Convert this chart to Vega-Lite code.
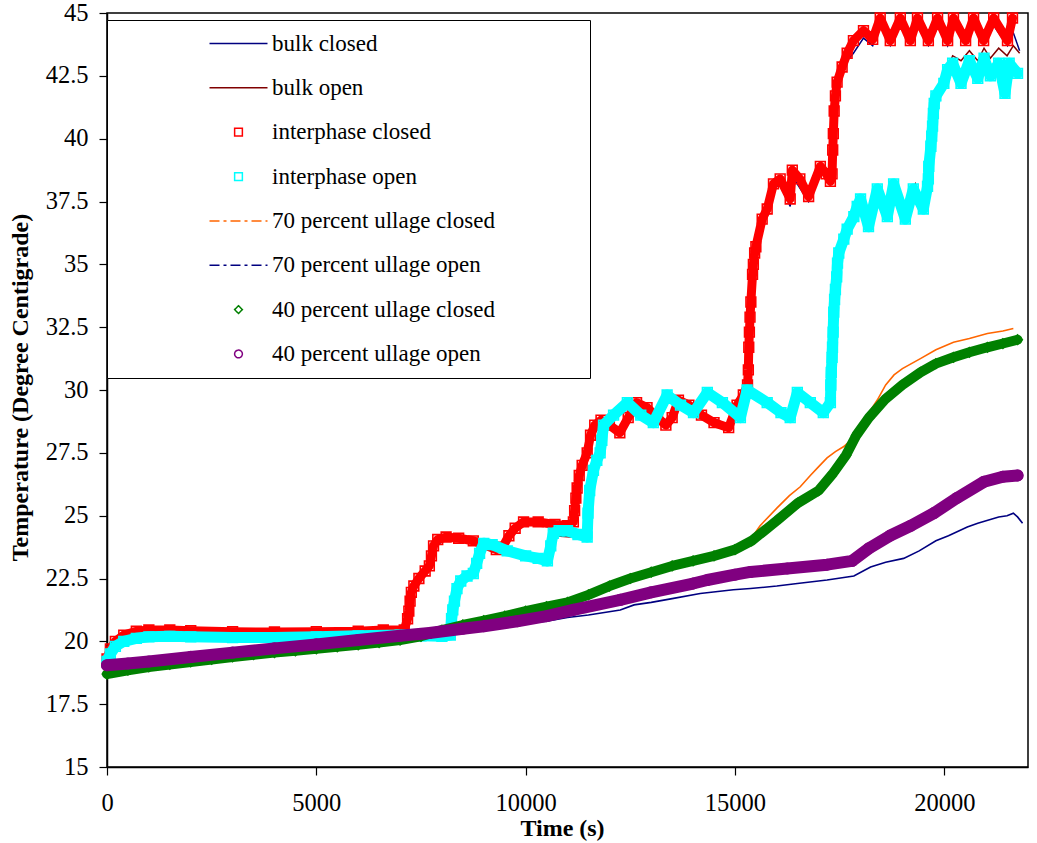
{
  "$schema": "https://vega.github.io/schema/vega-lite/v6.json",
  "width": 921,
  "height": 754,
  "autosize": {"type": "none"},
  "padding": {"left": 107, "top": 13, "right": 9, "bottom": 76},
  "background": "white",
  "config": {
    "font": "Liberation Serif",
    "view": {"stroke": "black", "strokeWidth": 1.5},
    "axis": {
      "grid": false,
      "domainColor": "black",
      "domainWidth": 1.5,
      "tickColor": "black",
      "tickWidth": 1.2,
      "tickSize": 8,
      "labelColor": "black",
      "titleColor": "black",
      "labelFont": "Liberation Serif",
      "titleFont": "Liberation Serif",
      "labelFontSize": 24.5,
      "titleFontSize": 24,
      "titleFontWeight": "bold",
      "labelFlush": false,
      "labelOverlap": false
    }
  },
  "data": {
    "values": [
      {"series": "bulk closed", "t": 0, "v": 19.3},
      {"series": "bulk closed", "t": 200, "v": 20.0},
      {"series": "bulk closed", "t": 700, "v": 20.35},
      {"series": "bulk closed", "t": 7100, "v": 20.4},
      {"series": "bulk closed", "t": 7200, "v": 21.0},
      {"series": "bulk closed", "t": 7300, "v": 22.0},
      {"series": "bulk closed", "t": 7600, "v": 22.7},
      {"series": "bulk closed", "t": 7800, "v": 23.7},
      {"series": "bulk closed", "t": 8100, "v": 24.1},
      {"series": "bulk closed", "t": 8750, "v": 23.95},
      {"series": "bulk closed", "t": 9300, "v": 23.6},
      {"series": "bulk closed", "t": 9750, "v": 24.4},
      {"series": "bulk closed", "t": 10000, "v": 24.7},
      {"series": "bulk closed", "t": 11140, "v": 24.6},
      {"series": "bulk closed", "t": 11200, "v": 25.5},
      {"series": "bulk closed", "t": 11350, "v": 26.9},
      {"series": "bulk closed", "t": 11550, "v": 28.0},
      {"series": "bulk closed", "t": 11800, "v": 28.7},
      {"series": "bulk closed", "t": 12250, "v": 28.3},
      {"series": "bulk closed", "t": 12650, "v": 29.4},
      {"series": "bulk closed", "t": 13350, "v": 28.6},
      {"series": "bulk closed", "t": 13650, "v": 29.5},
      {"series": "bulk closed", "t": 14850, "v": 28.6},
      {"series": "bulk closed", "t": 15200, "v": 29.7},
      {"series": "bulk closed", "t": 15300, "v": 30.2},
      {"series": "bulk closed", "t": 15340, "v": 32.0},
      {"series": "bulk closed", "t": 15420, "v": 34.5},
      {"series": "bulk closed", "t": 15500, "v": 35.6},
      {"series": "bulk closed", "t": 15650, "v": 36.6},
      {"series": "bulk closed", "t": 15920, "v": 38.0},
      {"series": "bulk closed", "t": 16080, "v": 38.2},
      {"series": "bulk closed", "t": 16320, "v": 37.3},
      {"series": "bulk closed", "t": 16370, "v": 38.5},
      {"series": "bulk closed", "t": 16760, "v": 37.5},
      {"series": "bulk closed", "t": 17040, "v": 38.7},
      {"series": "bulk closed", "t": 17280, "v": 38.2},
      {"series": "bulk closed", "t": 17335, "v": 39.5},
      {"series": "bulk closed", "t": 17370, "v": 41.0},
      {"series": "bulk closed", "t": 17440, "v": 42.1},
      {"series": "bulk closed", "t": 17560, "v": 42.7},
      {"series": "bulk closed", "t": 17680, "v": 43.1},
      {"series": "bulk closed", "t": 17830, "v": 43.4},
      {"series": "bulk closed", "t": 18070, "v": 44.0},
      {"series": "bulk closed", "t": 18290, "v": 43.7},
      {"series": "bulk closed", "t": 18470, "v": 44.5},
      {"series": "bulk closed", "t": 18710, "v": 43.7},
      {"series": "bulk closed", "t": 18950, "v": 44.5},
      {"series": "bulk closed", "t": 19190, "v": 43.8},
      {"series": "bulk closed", "t": 19360, "v": 44.5},
      {"series": "bulk closed", "t": 19620, "v": 43.7},
      {"series": "bulk closed", "t": 19840, "v": 44.5},
      {"series": "bulk closed", "t": 20080, "v": 43.7},
      {"series": "bulk closed", "t": 20220, "v": 44.5},
      {"series": "bulk closed", "t": 20510, "v": 43.8},
      {"series": "bulk closed", "t": 20700, "v": 44.5},
      {"series": "bulk closed", "t": 20940, "v": 43.8},
      {"series": "bulk closed", "t": 21180, "v": 44.5},
      {"series": "bulk closed", "t": 21510, "v": 43.7},
      {"series": "bulk closed", "t": 21630, "v": 44.3},
      {"series": "bulk closed", "t": 21800, "v": 43.5},

      {"series": "bulk open", "t": 0, "v": 19.2},
      {"series": "bulk open", "t": 200, "v": 19.8},
      {"series": "bulk open", "t": 700, "v": 20.1},
      {"series": "bulk open", "t": 8200, "v": 20.2},
      {"series": "bulk open", "t": 8260, "v": 21.1},
      {"series": "bulk open", "t": 8360, "v": 22.0},
      {"series": "bulk open", "t": 8600, "v": 22.5},
      {"series": "bulk open", "t": 8830, "v": 23.0},
      {"series": "bulk open", "t": 9000, "v": 23.8},
      {"series": "bulk open", "t": 9560, "v": 23.6},
      {"series": "bulk open", "t": 10520, "v": 23.2},
      {"series": "bulk open", "t": 10660, "v": 24.2},
      {"series": "bulk open", "t": 11470, "v": 24.1},
      {"series": "bulk open", "t": 11530, "v": 25.9},
      {"series": "bulk open", "t": 11700, "v": 27.1},
      {"series": "bulk open", "t": 11860, "v": 28.5},
      {"series": "bulk open", "t": 12430, "v": 29.4},
      {"series": "bulk open", "t": 13050, "v": 28.7},
      {"series": "bulk open", "t": 13380, "v": 29.7},
      {"series": "bulk open", "t": 14010, "v": 29.1},
      {"series": "bulk open", "t": 14340, "v": 29.8},
      {"series": "bulk open", "t": 15130, "v": 29.0},
      {"series": "bulk open", "t": 15290, "v": 29.9},
      {"series": "bulk open", "t": 16320, "v": 29.0},
      {"series": "bulk open", "t": 16490, "v": 29.8},
      {"series": "bulk open", "t": 17110, "v": 29.2},
      {"series": "bulk open", "t": 17280, "v": 29.4},
      {"series": "bulk open", "t": 17330, "v": 31.6},
      {"series": "bulk open", "t": 17400, "v": 33.9},
      {"series": "bulk open", "t": 17480, "v": 35.4},
      {"series": "bulk open", "t": 17680, "v": 36.4},
      {"series": "bulk open", "t": 17920, "v": 37.3},
      {"series": "bulk open", "t": 18000, "v": 37.5},
      {"series": "bulk open", "t": 18190, "v": 36.7},
      {"series": "bulk open", "t": 18400, "v": 37.9},
      {"series": "bulk open", "t": 18640, "v": 37.0},
      {"series": "bulk open", "t": 18790, "v": 38.1},
      {"series": "bulk open", "t": 19070, "v": 37.0},
      {"series": "bulk open", "t": 19310, "v": 38.2},
      {"series": "bulk open", "t": 19500, "v": 37.4},
      {"series": "bulk open", "t": 19600, "v": 38.1},
      {"series": "bulk open", "t": 19680, "v": 39.6},
      {"series": "bulk open", "t": 19760, "v": 41.3},
      {"series": "bulk open", "t": 19990, "v": 42.3},
      {"series": "bulk open", "t": 20080, "v": 42.8},
      {"series": "bulk open", "t": 20200, "v": 43.3},
      {"series": "bulk open", "t": 20400, "v": 43.1},
      {"series": "bulk open", "t": 20600, "v": 43.5},
      {"series": "bulk open", "t": 20800, "v": 43.1},
      {"series": "bulk open", "t": 20950, "v": 43.6},
      {"series": "bulk open", "t": 21100, "v": 43.2},
      {"series": "bulk open", "t": 21300, "v": 43.6},
      {"series": "bulk open", "t": 21500, "v": 43.3},
      {"series": "bulk open", "t": 21650, "v": 43.7},
      {"series": "bulk open", "t": 21800, "v": 43.4},

      {"series": "interphase closed", "t": 0, "v": 19.3},
      {"series": "interphase closed", "t": 80, "v": 19.7},
      {"series": "interphase closed", "t": 200, "v": 20.0},
      {"series": "interphase closed", "t": 400, "v": 20.25},
      {"series": "interphase closed", "t": 700, "v": 20.4},
      {"series": "interphase closed", "t": 1000, "v": 20.45},
      {"series": "interphase closed", "t": 1500, "v": 20.45},
      {"series": "interphase closed", "t": 2000, "v": 20.42},
      {"series": "interphase closed", "t": 3000, "v": 20.38},
      {"series": "interphase closed", "t": 4000, "v": 20.37},
      {"series": "interphase closed", "t": 5000, "v": 20.38},
      {"series": "interphase closed", "t": 6000, "v": 20.4},
      {"series": "interphase closed", "t": 6600, "v": 20.45},
      {"series": "interphase closed", "t": 7100, "v": 20.45},
      {"series": "interphase closed", "t": 7180, "v": 20.9},
      {"series": "interphase closed", "t": 7210, "v": 21.2},
      {"series": "interphase closed", "t": 7240, "v": 21.6},
      {"series": "interphase closed", "t": 7270, "v": 21.95},
      {"series": "interphase closed", "t": 7330, "v": 22.2},
      {"series": "interphase closed", "t": 7450, "v": 22.5},
      {"series": "interphase closed", "t": 7600, "v": 22.8},
      {"series": "interphase closed", "t": 7700, "v": 23.0},
      {"series": "interphase closed", "t": 7750, "v": 23.4},
      {"series": "interphase closed", "t": 7800, "v": 23.8},
      {"series": "interphase closed", "t": 7900, "v": 24.05},
      {"series": "interphase closed", "t": 8100, "v": 24.15},
      {"series": "interphase closed", "t": 8400, "v": 24.1},
      {"series": "interphase closed", "t": 8750, "v": 24.0},
      {"series": "interphase closed", "t": 9000, "v": 23.85},
      {"series": "interphase closed", "t": 9300, "v": 23.65},
      {"series": "interphase closed", "t": 9450, "v": 23.75},
      {"series": "interphase closed", "t": 9600, "v": 24.2},
      {"series": "interphase closed", "t": 9750, "v": 24.5},
      {"series": "interphase closed", "t": 9950, "v": 24.75},
      {"series": "interphase closed", "t": 10300, "v": 24.75},
      {"series": "interphase closed", "t": 10700, "v": 24.65},
      {"series": "interphase closed", "t": 11000, "v": 24.6},
      {"series": "interphase closed", "t": 11140, "v": 24.75},
      {"series": "interphase closed", "t": 11170, "v": 25.2},
      {"series": "interphase closed", "t": 11200, "v": 25.7},
      {"series": "interphase closed", "t": 11230, "v": 26.1},
      {"series": "interphase closed", "t": 11280, "v": 26.6},
      {"series": "interphase closed", "t": 11350, "v": 27.0},
      {"series": "interphase closed", "t": 11470, "v": 27.5},
      {"series": "interphase closed", "t": 11550, "v": 28.2},
      {"series": "interphase closed", "t": 11650, "v": 28.6},
      {"series": "interphase closed", "t": 11800, "v": 28.8},
      {"series": "interphase closed", "t": 12000, "v": 28.6},
      {"series": "interphase closed", "t": 12250, "v": 28.3},
      {"series": "interphase closed", "t": 12450, "v": 28.9},
      {"series": "interphase closed", "t": 12650, "v": 29.5},
      {"series": "interphase closed", "t": 12900, "v": 29.3},
      {"series": "interphase closed", "t": 13150, "v": 28.9},
      {"series": "interphase closed", "t": 13350, "v": 28.6},
      {"series": "interphase closed", "t": 13500, "v": 28.9},
      {"series": "interphase closed", "t": 13650, "v": 29.6},
      {"series": "interphase closed", "t": 13900, "v": 29.4},
      {"series": "interphase closed", "t": 14200, "v": 29.0},
      {"series": "interphase closed", "t": 14500, "v": 28.7},
      {"series": "interphase closed", "t": 14850, "v": 28.5},
      {"series": "interphase closed", "t": 15050, "v": 29.4},
      {"series": "interphase closed", "t": 15200, "v": 29.8},
      {"series": "interphase closed", "t": 15300, "v": 30.2},
      {"series": "interphase closed", "t": 15320, "v": 30.8},
      {"series": "interphase closed", "t": 15330, "v": 31.7},
      {"series": "interphase closed", "t": 15345, "v": 32.3},
      {"series": "interphase closed", "t": 15360, "v": 32.9},
      {"series": "interphase closed", "t": 15380, "v": 33.5},
      {"series": "interphase closed", "t": 15420, "v": 34.6},
      {"series": "interphase closed", "t": 15440, "v": 35.0},
      {"series": "interphase closed", "t": 15470, "v": 35.45},
      {"series": "interphase closed", "t": 15500, "v": 35.7},
      {"series": "interphase closed", "t": 15650, "v": 36.8},
      {"series": "interphase closed", "t": 15770, "v": 37.2},
      {"series": "interphase closed", "t": 15920, "v": 38.2},
      {"series": "interphase closed", "t": 16080, "v": 38.4},
      {"series": "interphase closed", "t": 16320, "v": 37.6},
      {"series": "interphase closed", "t": 16370, "v": 38.75},
      {"series": "interphase closed", "t": 16550, "v": 38.4},
      {"series": "interphase closed", "t": 16760, "v": 37.7},
      {"series": "interphase closed", "t": 17040, "v": 38.9},
      {"series": "interphase closed", "t": 17180, "v": 38.6},
      {"series": "interphase closed", "t": 17280, "v": 38.3},
      {"series": "interphase closed", "t": 17320, "v": 38.6},
      {"series": "interphase closed", "t": 17335, "v": 39.55},
      {"series": "interphase closed", "t": 17350, "v": 40.2},
      {"series": "interphase closed", "t": 17370, "v": 41.1},
      {"series": "interphase closed", "t": 17400, "v": 41.7},
      {"series": "interphase closed", "t": 17440, "v": 42.25},
      {"series": "interphase closed", "t": 17560, "v": 42.85},
      {"series": "interphase closed", "t": 17680, "v": 43.4},
      {"series": "interphase closed", "t": 17830, "v": 43.9},
      {"series": "interphase closed", "t": 18070, "v": 44.3},
      {"series": "interphase closed", "t": 18290, "v": 43.95},
      {"series": "interphase closed", "t": 18470, "v": 44.8},
      {"series": "interphase closed", "t": 18710, "v": 43.9},
      {"series": "interphase closed", "t": 18950, "v": 44.8},
      {"series": "interphase closed", "t": 19190, "v": 43.9},
      {"series": "interphase closed", "t": 19360, "v": 44.8},
      {"series": "interphase closed", "t": 19620, "v": 43.9},
      {"series": "interphase closed", "t": 19840, "v": 44.8},
      {"series": "interphase closed", "t": 20080, "v": 43.9},
      {"series": "interphase closed", "t": 20220, "v": 44.8},
      {"series": "interphase closed", "t": 20510, "v": 43.9},
      {"series": "interphase closed", "t": 20700, "v": 44.8},
      {"series": "interphase closed", "t": 20940, "v": 43.9},
      {"series": "interphase closed", "t": 21180, "v": 44.8},
      {"series": "interphase closed", "t": 21510, "v": 43.9},
      {"series": "interphase closed", "t": 21630, "v": 44.8},

      {"series": "interphase open", "t": 0, "v": 19.2},
      {"series": "interphase open", "t": 80, "v": 19.5},
      {"series": "interphase open", "t": 200, "v": 19.8},
      {"series": "interphase open", "t": 400, "v": 20.0},
      {"series": "interphase open", "t": 700, "v": 20.12},
      {"series": "interphase open", "t": 1000, "v": 20.18},
      {"series": "interphase open", "t": 1500, "v": 20.2},
      {"series": "interphase open", "t": 2000, "v": 20.18},
      {"series": "interphase open", "t": 3000, "v": 20.15},
      {"series": "interphase open", "t": 4000, "v": 20.15},
      {"series": "interphase open", "t": 5000, "v": 20.18},
      {"series": "interphase open", "t": 6000, "v": 20.22},
      {"series": "interphase open", "t": 7000, "v": 20.25},
      {"series": "interphase open", "t": 7500, "v": 20.22},
      {"series": "interphase open", "t": 8000, "v": 20.2},
      {"series": "interphase open", "t": 8200, "v": 20.25},
      {"series": "interphase open", "t": 8230, "v": 20.9},
      {"series": "interphase open", "t": 8260, "v": 21.25},
      {"series": "interphase open", "t": 8300, "v": 21.6},
      {"series": "interphase open", "t": 8360, "v": 22.1},
      {"series": "interphase open", "t": 8450, "v": 22.4},
      {"series": "interphase open", "t": 8600, "v": 22.6},
      {"series": "interphase open", "t": 8750, "v": 22.7},
      {"series": "interphase open", "t": 8830, "v": 23.1},
      {"series": "interphase open", "t": 8900, "v": 23.5},
      {"series": "interphase open", "t": 9000, "v": 23.9},
      {"series": "interphase open", "t": 9200, "v": 23.85},
      {"series": "interphase open", "t": 9560, "v": 23.6},
      {"series": "interphase open", "t": 10000, "v": 23.4},
      {"series": "interphase open", "t": 10300, "v": 23.3},
      {"series": "interphase open", "t": 10520, "v": 23.2},
      {"series": "interphase open", "t": 10600, "v": 23.8},
      {"series": "interphase open", "t": 10660, "v": 24.3},
      {"series": "interphase open", "t": 10800, "v": 24.4},
      {"series": "interphase open", "t": 11000, "v": 24.4},
      {"series": "interphase open", "t": 11250, "v": 24.25},
      {"series": "interphase open", "t": 11470, "v": 24.15},
      {"series": "interphase open", "t": 11490, "v": 25.1},
      {"series": "interphase open", "t": 11530, "v": 26.0},
      {"series": "interphase open", "t": 11620, "v": 26.8},
      {"series": "interphase open", "t": 11700, "v": 27.2},
      {"series": "interphase open", "t": 11780, "v": 27.5},
      {"series": "interphase open", "t": 11820, "v": 28.0},
      {"series": "interphase open", "t": 11860, "v": 28.6},
      {"series": "interphase open", "t": 12100, "v": 29.0},
      {"series": "interphase open", "t": 12430, "v": 29.5},
      {"series": "interphase open", "t": 12750, "v": 29.0},
      {"series": "interphase open", "t": 13050, "v": 28.7},
      {"series": "interphase open", "t": 13380, "v": 29.8},
      {"series": "interphase open", "t": 13700, "v": 29.4},
      {"series": "interphase open", "t": 14010, "v": 29.1},
      {"series": "interphase open", "t": 14340, "v": 29.9},
      {"series": "interphase open", "t": 14700, "v": 29.5},
      {"series": "interphase open", "t": 15130, "v": 28.9},
      {"series": "interphase open", "t": 15290, "v": 30.0},
      {"series": "interphase open", "t": 15770, "v": 29.5},
      {"series": "interphase open", "t": 16100, "v": 29.1},
      {"series": "interphase open", "t": 16320, "v": 28.9},
      {"series": "interphase open", "t": 16490, "v": 29.9},
      {"series": "interphase open", "t": 16800, "v": 29.5},
      {"series": "interphase open", "t": 17110, "v": 29.1},
      {"series": "interphase open", "t": 17280, "v": 29.5},
      {"series": "interphase open", "t": 17290, "v": 30.2},
      {"series": "interphase open", "t": 17300, "v": 30.7},
      {"series": "interphase open", "t": 17320, "v": 31.3},
      {"series": "interphase open", "t": 17330, "v": 31.7},
      {"series": "interphase open", "t": 17345, "v": 32.3},
      {"series": "interphase open", "t": 17360, "v": 33.1},
      {"series": "interphase open", "t": 17380, "v": 33.6},
      {"series": "interphase open", "t": 17400, "v": 34.0},
      {"series": "interphase open", "t": 17430, "v": 34.5},
      {"series": "interphase open", "t": 17450, "v": 35.05},
      {"series": "interphase open", "t": 17480, "v": 35.45},
      {"series": "interphase open", "t": 17600, "v": 36.0},
      {"series": "interphase open", "t": 17680, "v": 36.4},
      {"series": "interphase open", "t": 17840, "v": 36.9},
      {"series": "interphase open", "t": 17920, "v": 37.3},
      {"series": "interphase open", "t": 18000, "v": 37.6},
      {"series": "interphase open", "t": 18190, "v": 36.5},
      {"series": "interphase open", "t": 18400, "v": 38.0},
      {"series": "interphase open", "t": 18640, "v": 36.9},
      {"series": "interphase open", "t": 18790, "v": 38.2},
      {"series": "interphase open", "t": 19070, "v": 36.8},
      {"series": "interphase open", "t": 19260, "v": 38.0},
      {"series": "interphase open", "t": 19500, "v": 37.2},
      {"series": "interphase open", "t": 19600, "v": 38.1},
      {"series": "interphase open", "t": 19620, "v": 38.4},
      {"series": "interphase open", "t": 19630, "v": 38.9},
      {"series": "interphase open", "t": 19680, "v": 39.7},
      {"series": "interphase open", "t": 19700, "v": 40.1},
      {"series": "interphase open", "t": 19720, "v": 40.5},
      {"series": "interphase open", "t": 19740, "v": 41.0},
      {"series": "interphase open", "t": 19760, "v": 41.4},
      {"series": "interphase open", "t": 19800, "v": 41.7},
      {"series": "interphase open", "t": 19990, "v": 42.2},
      {"series": "interphase open", "t": 20080, "v": 42.75},
      {"series": "interphase open", "t": 20200, "v": 43.0},
      {"series": "interphase open", "t": 20400, "v": 42.2},
      {"series": "interphase open", "t": 20600, "v": 43.1},
      {"series": "interphase open", "t": 20800, "v": 42.4},
      {"series": "interphase open", "t": 20950, "v": 43.2},
      {"series": "interphase open", "t": 21100, "v": 42.5},
      {"series": "interphase open", "t": 21300, "v": 43.0},
      {"series": "interphase open", "t": 21450, "v": 41.8},
      {"series": "interphase open", "t": 21550, "v": 43.0},
      {"series": "interphase open", "t": 21750, "v": 42.6},

      {"series": "70 percent ullage closed", "t": 0, "v": 18.75},
      {"series": "70 percent ullage closed", "t": 2000, "v": 19.2},
      {"series": "70 percent ullage closed", "t": 5000, "v": 19.72},
      {"series": "70 percent ullage closed", "t": 7000, "v": 20.05},
      {"series": "70 percent ullage closed", "t": 9000, "v": 20.85},
      {"series": "70 percent ullage closed", "t": 11000, "v": 21.6},
      {"series": "70 percent ullage closed", "t": 13000, "v": 22.8},
      {"series": "70 percent ullage closed", "t": 15000, "v": 23.7},
      {"series": "70 percent ullage closed", "t": 15350, "v": 24.0},
      {"series": "70 percent ullage closed", "t": 15600, "v": 24.6},
      {"series": "70 percent ullage closed", "t": 16000, "v": 25.3},
      {"series": "70 percent ullage closed", "t": 16300, "v": 25.8},
      {"series": "70 percent ullage closed", "t": 16560, "v": 26.15},
      {"series": "70 percent ullage closed", "t": 16800, "v": 26.6},
      {"series": "70 percent ullage closed", "t": 17000, "v": 26.95},
      {"series": "70 percent ullage closed", "t": 17200, "v": 27.3},
      {"series": "70 percent ullage closed", "t": 17400, "v": 27.55},
      {"series": "70 percent ullage closed", "t": 17600, "v": 27.75},
      {"series": "70 percent ullage closed", "t": 17830, "v": 28.1},
      {"series": "70 percent ullage closed", "t": 18000, "v": 28.6},
      {"series": "70 percent ullage closed", "t": 18200, "v": 29.1},
      {"series": "70 percent ullage closed", "t": 18400, "v": 29.6},
      {"series": "70 percent ullage closed", "t": 18600, "v": 30.2},
      {"series": "70 percent ullage closed", "t": 18800, "v": 30.6},
      {"series": "70 percent ullage closed", "t": 19000, "v": 30.85},
      {"series": "70 percent ullage closed", "t": 19430, "v": 31.25},
      {"series": "70 percent ullage closed", "t": 19800, "v": 31.6},
      {"series": "70 percent ullage closed", "t": 20220, "v": 31.9},
      {"series": "70 percent ullage closed", "t": 20600, "v": 32.05},
      {"series": "70 percent ullage closed", "t": 21030, "v": 32.25},
      {"series": "70 percent ullage closed", "t": 21400, "v": 32.35},
      {"series": "70 percent ullage closed", "t": 21650, "v": 32.45},

      {"series": "70 percent ullage open", "t": 0, "v": 19.0},
      {"series": "70 percent ullage open", "t": 1000, "v": 19.2},
      {"series": "70 percent ullage open", "t": 2000, "v": 19.4},
      {"series": "70 percent ullage open", "t": 3000, "v": 19.6},
      {"series": "70 percent ullage open", "t": 4000, "v": 19.8},
      {"series": "70 percent ullage open", "t": 5000, "v": 19.97},
      {"series": "70 percent ullage open", "t": 6000, "v": 20.15},
      {"series": "70 percent ullage open", "t": 7000, "v": 20.3},
      {"series": "70 percent ullage open", "t": 8000, "v": 20.45},
      {"series": "70 percent ullage open", "t": 9000, "v": 20.6},
      {"series": "70 percent ullage open", "t": 9870, "v": 20.7},
      {"series": "70 percent ullage open", "t": 10500, "v": 20.8},
      {"series": "70 percent ullage open", "t": 11000, "v": 20.95},
      {"series": "70 percent ullage open", "t": 11500, "v": 21.05},
      {"series": "70 percent ullage open", "t": 12260, "v": 21.25},
      {"series": "70 percent ullage open", "t": 12590, "v": 21.45},
      {"series": "70 percent ullage open", "t": 13000, "v": 21.55},
      {"series": "70 percent ullage open", "t": 13500, "v": 21.7},
      {"series": "70 percent ullage open", "t": 14170, "v": 21.9},
      {"series": "70 percent ullage open", "t": 14960, "v": 22.05},
      {"series": "70 percent ullage open", "t": 15370, "v": 22.1},
      {"series": "70 percent ullage open", "t": 16000, "v": 22.2},
      {"series": "70 percent ullage open", "t": 16490, "v": 22.3},
      {"series": "70 percent ullage open", "t": 17200, "v": 22.44},
      {"series": "70 percent ullage open", "t": 17840, "v": 22.6},
      {"series": "70 percent ullage open", "t": 18240, "v": 22.96},
      {"series": "70 percent ullage open", "t": 18600, "v": 23.15},
      {"series": "70 percent ullage open", "t": 19030, "v": 23.3},
      {"series": "70 percent ullage open", "t": 19400, "v": 23.6},
      {"series": "70 percent ullage open", "t": 19800, "v": 24.0},
      {"series": "70 percent ullage open", "t": 20100, "v": 24.2},
      {"series": "70 percent ullage open", "t": 20550, "v": 24.55},
      {"series": "70 percent ullage open", "t": 20800, "v": 24.7},
      {"series": "70 percent ullage open", "t": 21000, "v": 24.8},
      {"series": "70 percent ullage open", "t": 21300, "v": 24.95},
      {"series": "70 percent ullage open", "t": 21500, "v": 25.0},
      {"series": "70 percent ullage open", "t": 21650, "v": 25.1},
      {"series": "70 percent ullage open", "t": 21750, "v": 24.95},
      {"series": "70 percent ullage open", "t": 21870, "v": 24.7},

      {"series": "40 percent ullage closed", "t": 0, "v": 18.7},
      {"series": "40 percent ullage closed", "t": 500, "v": 18.85},
      {"series": "40 percent ullage closed", "t": 1000, "v": 18.98},
      {"series": "40 percent ullage closed", "t": 1500, "v": 19.08},
      {"series": "40 percent ullage closed", "t": 2000, "v": 19.18},
      {"series": "40 percent ullage closed", "t": 2500, "v": 19.28},
      {"series": "40 percent ullage closed", "t": 3000, "v": 19.38},
      {"series": "40 percent ullage closed", "t": 3500, "v": 19.47},
      {"series": "40 percent ullage closed", "t": 4000, "v": 19.55},
      {"series": "40 percent ullage closed", "t": 4500, "v": 19.62},
      {"series": "40 percent ullage closed", "t": 5000, "v": 19.7},
      {"series": "40 percent ullage closed", "t": 5500, "v": 19.78},
      {"series": "40 percent ullage closed", "t": 6000, "v": 19.86},
      {"series": "40 percent ullage closed", "t": 6500, "v": 19.95},
      {"series": "40 percent ullage closed", "t": 7000, "v": 20.05},
      {"series": "40 percent ullage closed", "t": 7500, "v": 20.2},
      {"series": "40 percent ullage closed", "t": 8000, "v": 20.45},
      {"series": "40 percent ullage closed", "t": 8500, "v": 20.65},
      {"series": "40 percent ullage closed", "t": 9000, "v": 20.82},
      {"series": "40 percent ullage closed", "t": 9500, "v": 21.0},
      {"series": "40 percent ullage closed", "t": 10000, "v": 21.2},
      {"series": "40 percent ullage closed", "t": 10500, "v": 21.38},
      {"series": "40 percent ullage closed", "t": 11000, "v": 21.55},
      {"series": "40 percent ullage closed", "t": 11500, "v": 21.85},
      {"series": "40 percent ullage closed", "t": 12000, "v": 22.2},
      {"series": "40 percent ullage closed", "t": 12500, "v": 22.5},
      {"series": "40 percent ullage closed", "t": 13000, "v": 22.75},
      {"series": "40 percent ullage closed", "t": 13500, "v": 23.0},
      {"series": "40 percent ullage closed", "t": 14000, "v": 23.2},
      {"series": "40 percent ullage closed", "t": 14500, "v": 23.4},
      {"series": "40 percent ullage closed", "t": 15000, "v": 23.65},
      {"series": "40 percent ullage closed", "t": 15400, "v": 24.0},
      {"series": "40 percent ullage closed", "t": 15700, "v": 24.4},
      {"series": "40 percent ullage closed", "t": 16000, "v": 24.8},
      {"series": "40 percent ullage closed", "t": 16500, "v": 25.5},
      {"series": "40 percent ullage closed", "t": 17000, "v": 26.0},
      {"series": "40 percent ullage closed", "t": 17350, "v": 26.7},
      {"series": "40 percent ullage closed", "t": 17650, "v": 27.4},
      {"series": "40 percent ullage closed", "t": 17900, "v": 28.2},
      {"series": "40 percent ullage closed", "t": 18200, "v": 28.9},
      {"series": "40 percent ullage closed", "t": 18600, "v": 29.65},
      {"series": "40 percent ullage closed", "t": 19000, "v": 30.2},
      {"series": "40 percent ullage closed", "t": 19430, "v": 30.7},
      {"series": "40 percent ullage closed", "t": 19800, "v": 31.05},
      {"series": "40 percent ullage closed", "t": 20220, "v": 31.3},
      {"series": "40 percent ullage closed", "t": 20600, "v": 31.5},
      {"series": "40 percent ullage closed", "t": 21030, "v": 31.7},
      {"series": "40 percent ullage closed", "t": 21400, "v": 31.85},
      {"series": "40 percent ullage closed", "t": 21750, "v": 32.0},

      {"series": "40 percent ullage open", "t": 0, "v": 19.05},
      {"series": "40 percent ullage open", "t": 500, "v": 19.12},
      {"series": "40 percent ullage open", "t": 1000, "v": 19.2},
      {"series": "40 percent ullage open", "t": 2000, "v": 19.38},
      {"series": "40 percent ullage open", "t": 3000, "v": 19.55},
      {"series": "40 percent ullage open", "t": 4000, "v": 19.72},
      {"series": "40 percent ullage open", "t": 5000, "v": 19.88},
      {"series": "40 percent ullage open", "t": 6000, "v": 20.05},
      {"series": "40 percent ullage open", "t": 7000, "v": 20.22},
      {"series": "40 percent ullage open", "t": 7700, "v": 20.33},
      {"series": "40 percent ullage open", "t": 8500, "v": 20.5},
      {"series": "40 percent ullage open", "t": 9000, "v": 20.6},
      {"series": "40 percent ullage open", "t": 9800, "v": 20.8},
      {"series": "40 percent ullage open", "t": 10500, "v": 21.0},
      {"series": "40 percent ullage open", "t": 11140, "v": 21.25},
      {"series": "40 percent ullage open", "t": 12260, "v": 21.65},
      {"series": "40 percent ullage open", "t": 13000, "v": 21.95},
      {"series": "40 percent ullage open", "t": 14000, "v": 22.3},
      {"series": "40 percent ullage open", "t": 14340, "v": 22.44},
      {"series": "40 percent ullage open", "t": 15000, "v": 22.65},
      {"series": "40 percent ullage open", "t": 15370, "v": 22.76},
      {"series": "40 percent ullage open", "t": 16250, "v": 22.9},
      {"series": "40 percent ullage open", "t": 17200, "v": 23.05},
      {"series": "40 percent ullage open", "t": 17800, "v": 23.2},
      {"series": "40 percent ullage open", "t": 18200, "v": 23.7},
      {"series": "40 percent ullage open", "t": 18700, "v": 24.2},
      {"series": "40 percent ullage open", "t": 19200, "v": 24.6},
      {"series": "40 percent ullage open", "t": 19750, "v": 25.1},
      {"series": "40 percent ullage open", "t": 20300, "v": 25.7},
      {"series": "40 percent ullage open", "t": 20950, "v": 26.35},
      {"series": "40 percent ullage open", "t": 21400, "v": 26.55},
      {"series": "40 percent ullage open", "t": 21750, "v": 26.6}
    ]
  },
  "encoding": {
    "x": {
      "field": "t",
      "type": "quantitative",
      "scale": {"domain": [0, 22000], "nice": false, "zero": false},
      "axis": {
        "title": "Time (s)",
        "values": [0, 5000, 10000, 15000, 20000],
        "format": "d",
        "labelPadding": 16,
        "titleX": 455,
        "titleY": 68,
        "titleBaseline": "alphabetic",
        "titleAlign": "center"
      }
    },
    "y": {
      "field": "v",
      "type": "quantitative",
      "scale": {"domain": [15, 45], "nice": false, "zero": false},
      "axis": {
        "title": "Temperature (Degree Centigrade)",
        "values": [15, 17.5, 20, 22.5, 25, 27.5, 30, 32.5, 35, 37.5, 40, 42.5, 45],
        "format": ".3~g",
        "labelPadding": 11,
        "titleX": -80,
        "titleY": 374,
        "titleBaseline": "alphabetic",
        "titleAlign": "center",
        "titleAngle": 270
      }
    },
    "color": {
      "field": "series",
      "type": "nominal",
      "scale": {
        "domain": ["bulk closed", "bulk open", "interphase closed", "interphase open", "70 percent ullage closed", "70 percent ullage open", "40 percent ullage closed", "40 percent ullage open"],
        "range": ["#000080", "#800000", "#FF0000", "#00FFFF", "#FF6600", "#000080", "#008000", "#800080"]
      },
      "legend": {
        "orient": "none",
        "legendX": 0,
        "legendY": 7,
        "title": null,
        "padding": 12,
        "strokeColor": "black",
        "fillColor": "white",
        "labelFont": "Liberation Serif",
        "labelFontSize": 23,
        "labelColor": "black",
        "labelLimit": 0,
        "symbolSize": 64,
        "symbolStrokeWidth": 1.5,
        "symbolOffset": 108,
        "labelOffset": 22,
        "rowPadding": 20.35,
        "encode": {
          "symbols": {
            "update": {
              "shape": {"signal": "datum.value == 'interphase closed' || datum.value == 'interphase open' ? 'square' : datum.value == '40 percent ullage closed' ? 'diamond' : datum.value == '40 percent ullage open' ? 'circle' : 'M-1,0H1M11.58,0'"},
              "size": {"signal": "(datum.value == 'bulk closed' || datum.value == 'bulk open' || datum.value == '70 percent ullage closed' || datum.value == '70 percent ullage open') ? 3364 : 60"},
              "strokeDash": {"signal": "(datum.value == '70 percent ullage closed' || datum.value == '70 percent ullage open') ? [10, 4, 3, 4] : [1, 0]"},
              "stroke": {"signal": "scale('color', datum.value)"},
              "fill": {"value": "transparent"},
              "strokeWidth": {"value": 1.5},
              "opacity": {"value": 1}
            }
          }
        }
      }
    }
  },
  "layer": [
    {"transform": [{"filter": "datum.series == 'bulk closed'"}], "mark": {"type": "line", "strokeWidth": 1.5}},
    {"transform": [{"filter": "datum.series == 'bulk open'"}], "mark": {"type": "line", "strokeWidth": 1.5}},
    {"transform": [{"filter": "datum.series == 'interphase closed'"}], "mark": {"type": "line", "strokeWidth": 9, "strokeCap": "round", "strokeJoin": "round"}},
    {"transform": [{"filter": "datum.series == 'interphase closed'"}], "mark": {"type": "point", "shape": "square", "filled": false, "size": 95, "strokeWidth": 1.6, "opacity": 1}},
    {"transform": [{"filter": "datum.series == 'interphase open'"}], "mark": {"type": "line", "strokeWidth": 11, "strokeCap": "round", "strokeJoin": "round"}},
    {"transform": [{"filter": "datum.series == 'interphase open'"}], "mark": {"type": "point", "shape": "square", "filled": false, "size": 95, "strokeWidth": 1.6, "opacity": 1}},
    {"transform": [{"filter": "datum.series == '70 percent ullage closed'"}], "mark": {"type": "line", "strokeWidth": 1.6}},
    {"transform": [{"filter": "datum.series == '70 percent ullage open'"}], "mark": {"type": "line", "strokeWidth": 1.6}},
    {"transform": [{"filter": "datum.series == '40 percent ullage closed'"}], "mark": {"type": "line", "strokeWidth": 10, "strokeCap": "round", "strokeJoin": "round"}},
    {"transform": [{"filter": "datum.series == '40 percent ullage closed'"}], "mark": {"type": "point", "shape": "diamond", "filled": false, "size": 90, "strokeWidth": 1.6, "opacity": 1}},
    {"transform": [{"filter": "datum.series == '40 percent ullage open'"}], "mark": {"type": "line", "strokeWidth": 12, "strokeCap": "round", "strokeJoin": "round"}},
    {"transform": [{"filter": "datum.series == '40 percent ullage open'"}], "mark": {"type": "point", "shape": "circle", "filled": false, "size": 110, "strokeWidth": 1.6, "opacity": 1}}
  ]
}
